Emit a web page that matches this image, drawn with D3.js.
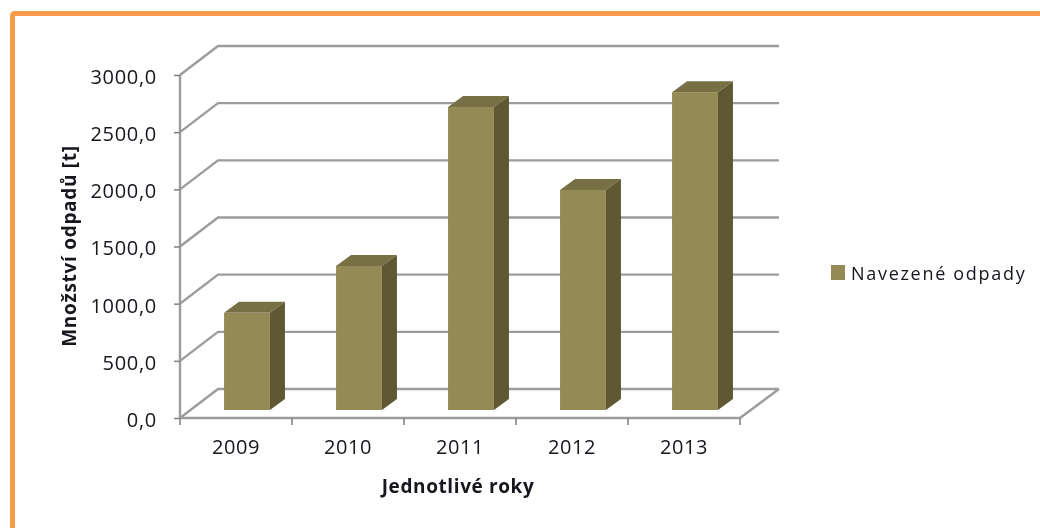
<!DOCTYPE html>
<html><head><meta charset="utf-8">
<script src="https://cdnjs.cloudflare.com/ajax/libs/d3/7.8.5/d3.min.js"></script>
<style>html,body{margin:0;padding:0;background:#fff}svg{display:block}text{font-family:"Open Sans",sans-serif;fill:#14141c}</style>
</head><body><div id="c"></div>
<script>
const years = ["2009","2010","2011","2012","2013"];
const waste = [850,1260,2650,1925,2780];
const yTicks = [0,500,1000,1500,2000,2500,3000];
const seriesName = "Navezené odpady";
const yTitle = "Množství odpadů [t]";
const xTitle = "Jednotlivé roky";

const W=1040,H=528;
const svg=d3.select("#c").append("svg").attr("width",W).attr("height",H);
const defs=svg.append("defs");
defs.append("filter").attr("id","soft").attr("x","-5%").attr("y","-5%").attr("width","110%").attr("height","110%")
  .append("feGaussianBlur").attr("stdDeviation",0.5);

svg.append("rect").attr("x",12.5).attr("y",13.5).attr("width",W+20).attr("height",H+20).attr("rx",2)
  .attr("fill","#fff").attr("stroke","#F79A4B").attr("stroke-width",5);

const x=d3.scaleBand().domain(years).range([180,740]).paddingInner(0.59).paddingOuter(0.295);
const y=d3.scaleLinear().domain([0,3000]).range([418,75]);
const fmt=d=>d.toFixed(1).replace(".",",");
const wallDx=38,wallDy=-29, barDx=11,barDy=-8, depthX=15,depthY=-11;
const gridCol="#9c9c9c";
const tickFont=20;

const plot=svg.append("g").attr("filter","url(#soft)");
// walls / gridlines
plot.append("g").selectAll("path").data(yTicks).join("path")
  .attr("fill","none").attr("stroke",gridCol).attr("stroke-width",2.4)
  .attr("d",d=>{
    const p=d3.path();p.moveTo(180,y(d));p.lineTo(180+wallDx,y(d)+wallDy);p.lineTo(740+wallDx+1,y(d)+wallDy);
    return p.toString();});
// floor front edge and right side
const fl=d3.path();fl.moveTo(180,y(0));fl.lineTo(740,y(0));fl.lineTo(740+wallDx+1,y(0)+wallDy);
plot.append("path").attr("d",fl.toString()).attr("fill","none").attr("stroke",gridCol).attr("stroke-width",2.4);

// axes
const yAxis=plot.append("g").attr("transform","translate(180,0)")
  .call(d3.axisLeft(y).tickValues(yTicks).tickFormat(fmt).tickSize(6).tickPadding(17));
yAxis.select(".domain").attr("stroke",gridCol).attr("stroke-width",2.4).attr("d",`M0,${y(3000)}V${y(0)}`);
yAxis.selectAll(".tick line").attr("stroke","#808080").attr("stroke-width",1.5);
yAxis.selectAll("text").attr("font-size",tickFont).attr("letter-spacing",0.7).attr("dy","0.42em").attr("font-family",'"Open Sans",sans-serif').attr("fill","#14141c");

const xAxis=plot.append("g").attr("transform",`translate(0,${y(0)})`)
  .call(d3.axisBottom(x).tickSize(0).tickPadding(22));
xAxis.select(".domain").remove();
xAxis.selectAll("text").attr("font-size",tickFont).attr("letter-spacing",0.6).attr("font-family",'"Open Sans",sans-serif').attr("fill","#14141c");
const edges=years.map(d=>x(d)-x.step()*x.paddingInner()/2).concat([x.range()[1]]);
plot.append("g").selectAll("line").data(edges).join("line")
  .attr("x1",d=>d).attr("x2",d=>d).attr("y1",y(0)).attr("y2",y(0)+7)
  .attr("stroke","#808080").attr("stroke-width",1.5);

// bars
const bars=plot.append("g").selectAll("g").data(years.map((c,i)=>({c,v:waste[i]}))).join("g");
bars.append("path").attr("fill","#777044").attr("d",d=>{
  const l=x(d.c)+barDx,r=l+x.bandwidth(),t=y(d.v)+barDy;
  return `M${l},${t}L${l+depthX},${t+depthY}L${r+depthX},${t+depthY}L${r},${t}Z`;});
bars.append("path").attr("fill","#5F5933").attr("d",d=>{
  const r=x(d.c)+barDx+x.bandwidth(),t=y(d.v)+barDy,b=y(0)+barDy;
  return `M${r},${t}L${r+depthX},${t+depthY}L${r+depthX},${b+depthY}L${r},${b}Z`;});
bars.append("rect").attr("fill","#948A54")
  .attr("x",d=>x(d.c)+barDx).attr("width",x.bandwidth())
  .attr("y",d=>y(d.v)+barDy).attr("height",d=>y(0)-y(d.v));

// titles
plot.append("text").attr("transform","translate(76,246) rotate(-90)").attr("text-anchor","middle")
  .attr("font-size",19).attr("font-weight",700).attr("letter-spacing",0.7).text(yTitle);
plot.append("text").attr("x",458).attr("y",493).attr("text-anchor","middle")
  .attr("font-size",19).attr("font-weight",700).attr("letter-spacing",0.6).text(xTitle);

// legend
plot.append("rect").attr("x",831).attr("y",265).attr("width",14).attr("height",15).attr("fill","#948A54");
plot.append("text").attr("x",851).attr("y",280).attr("font-size",18).attr("letter-spacing",1.7).text(seriesName);
</script></body></html>
